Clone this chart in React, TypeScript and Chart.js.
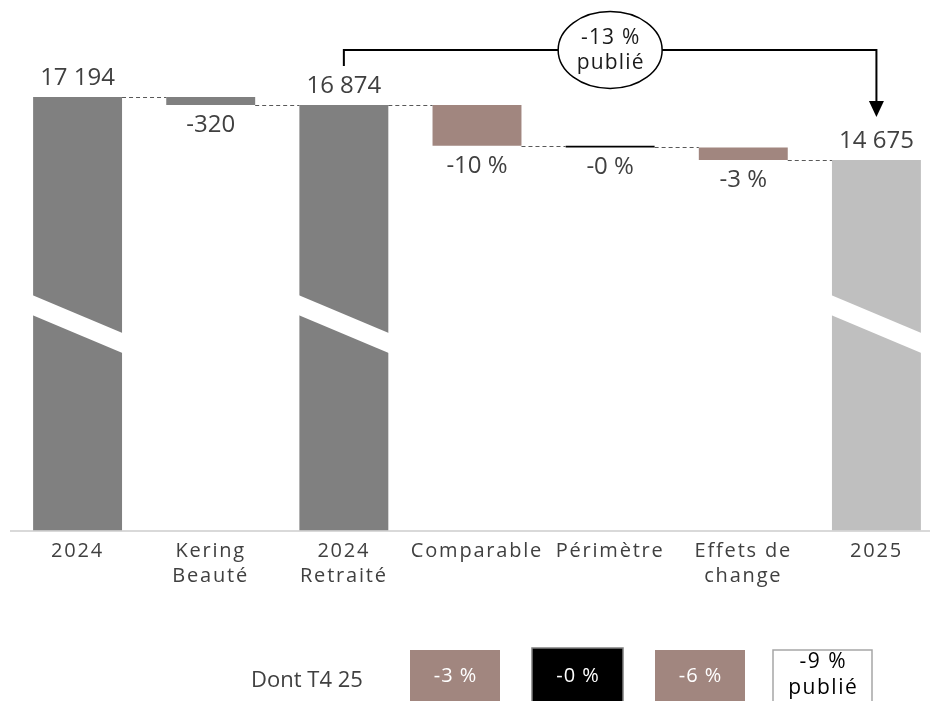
import React, { useEffect, useRef } from "react";
import { Chart, registerables } from "chart.js";

Chart.register(...registerables);

// ---------- data ----------
const categories: string[][] = [
  ["2024"],
  ["Kering", "Beauté"],
  ["2024", "Retraité"],
  ["Comparable"],
  ["Périmètre"],
  ["Effets de", "change"],
  ["2025"],
];
const kinds = ["total", "delta", "total", "delta", "delta", "delta", "total"];
const values = [17194, -320, 16874, -1630, -70, -499, 14675];
const valueLabels = ["17 194", "-320", "16 874", "-10 %", "-0 %", "-3 %", "14 675"];
const barColors = ["#808080", "#808080", "#808080", "#A1867F", "#000000", "#A1867F", "#BFBFBF"];
const bridgeLabel = ["-13 %", "publié"];
const q4Title = "Dont T4 25";
const q4Labels: string[][] = [["-3 %"], ["-0 %"], ["-6 %"], ["-9 %", "publié"]];
const q4Fills = ["#A1867F", "#000000", "#A1867F", "#FFFFFF"];
const q4TextColors = ["#FFFFFF", "#FFFFFF", "#FFFFFF", "#000000"];
const q4Borders = [null, "#7F7F7F", null, "#A6A6A6"];

// axis break: the hidden lower part of the scale
const AXIS_MIN = -140;
const AXIS_MAX = 20270;
const BREAK_VALUE = 9280;

const FONT = "'Open Sans', 'DejaVu Sans', sans-serif";
const TEXT = "#404040";

function buildFloating() {
  let running = 0;
  return values.map((v, i) => {
    if (kinds[i] === "total") {
      running = v;
      return [AXIS_MIN, v];
    }
    const start = running;
    running = running + v;
    return [start, running];
  });
}

const spacingPlugin = {
  id: "spacing",
  beforeDraw(chart: any) {
    (chart.ctx as any).letterSpacing = "1.8px";
  },
  beforeDatasetsDraw(chart: any) {
    (chart.ctx as any).letterSpacing = "0px";
  },
};

const decorPlugin = {
  id: "decor",
  afterDatasetsDraw(chart: any) {
    const ctx: CanvasRenderingContext2D = chart.ctx;
    const c2 = ctx as any;
    c2.letterSpacing = "0px";
    const meta = chart.getDatasetMeta(0);
    const y = chart.scales.y;
    const bars = meta.data as any[];
    const floating = buildFloating();
    ctx.save();

    // axis-break bands
    bars.forEach((b, i) => {
      if (kinds[i] !== "total") return;
      const w = b.width;
      const l = b.x - w / 2;
      const r = b.x + w / 2 + 1;
      const y0 = y.getPixelForValue(BREAK_VALUE);
      const drop = 0.43 * w;
      ctx.fillStyle = "#FFFFFF";
      ctx.beginPath();
      ctx.moveTo(l - 1, y0);
      ctx.lineTo(r, y0 + drop);
      ctx.lineTo(r, y0 + drop + 20);
      ctx.lineTo(l - 1, y0 + 20);
      ctx.closePath();
      ctx.fill();
    });

    // connectors
    ctx.strokeStyle = "#595959";
    ctx.lineWidth = 1;
    ctx.setLineDash([4, 3]);
    for (let i = 0; i < bars.length - 1; i++) {
      const level = floating[i][1];
      const py = Math.round(y.getPixelForValue(level)) + 0.5;
      const x1 = bars[i].x + bars[i].width / 2;
      const x2 = bars[i + 1].x - bars[i + 1].width / 2;
      ctx.beginPath();
      ctx.moveTo(x1, py);
      ctx.lineTo(x2, py);
      ctx.stroke();
    }
    ctx.setLineDash([]);

    // value labels
    ctx.fillStyle = TEXT;
    ctx.font = `24px ${FONT}`;
    ctx.textAlign = "center";
    ctx.textBaseline = "middle";
    bars.forEach((b, i) => {
      const top = Math.min(b.y, b.base);
      const bottom = Math.max(b.y, b.base);
      if (kinds[i] === "total") {
        ctx.fillText(valueLabels[i], b.x, top - 19);
      } else {
        ctx.fillText(valueLabels[i], b.x, bottom + 20);
      }
    });

    // bridge arrow 2024 Retraité -> 2025
    const from = bars[2];
    const to = bars[bars.length - 1];
    const lineY = chart.chartArea.top + 30;
    const startY = from.y - 39;
    const tipY = to.y - 43;
    ctx.strokeStyle = "#000000";
    ctx.lineWidth = 2;
    ctx.beginPath();
    ctx.moveTo(from.x, startY);
    ctx.lineTo(from.x, lineY);
    ctx.lineTo(to.x, lineY);
    ctx.lineTo(to.x, tipY - 15);
    ctx.stroke();
    ctx.fillStyle = "#000000";
    ctx.beginPath();
    ctx.moveTo(to.x - 7.5, tipY - 16);
    ctx.lineTo(to.x + 7.5, tipY - 16);
    ctx.lineTo(to.x, tipY);
    ctx.closePath();
    ctx.fill();

    const cx = (from.x + to.x) / 2;
    ctx.fillStyle = "#FFFFFF";
    ctx.lineWidth = 1.5;
    ctx.beginPath();
    ctx.ellipse(cx, lineY, 52, 38.5, 0, 0, Math.PI * 2);
    ctx.fill();
    ctx.stroke();
    ctx.fillStyle = "#1A1A1A";
    ctx.font = `21px ${FONT}`;
    c2.letterSpacing = "1.2px";
    ctx.fillText(bridgeLabel[0], cx + 0.6, lineY - 12);
    ctx.fillText(bridgeLabel[1], cx + 0.6, lineY + 13);
    c2.letterSpacing = "0px";

    // "Dont T4 25" row
    const rowTop = 650;
    ctx.fillStyle = TEXT;
    ctx.font = `22px ${FONT}`;
    ctx.fillText(q4Title, 307, 681);
    const centers = [455, 577.5, 700, 822.5];
    const widths = [90, 91, 90, 99];
    centers.forEach((c, i) => {
      const l = c - widths[i] / 2;
      const t = i === 1 ? rowTop - 2 : rowTop;
      ctx.fillStyle = q4Fills[i];
      ctx.fillRect(l, t, widths[i], 60);
      const bc = q4Borders[i];
      if (bc) {
        ctx.strokeStyle = bc;
        ctx.lineWidth = 1.5;
        ctx.strokeRect(l, t, widths[i], 60);
      }
      ctx.fillStyle = q4TextColors[i];
      const lines = q4Labels[i];
      if (lines.length === 1) {
        ctx.font = `20px ${FONT}`;
        c2.letterSpacing = "1px";
        ctx.fillText(lines[0], c + 0.5, 676);
      } else {
        ctx.font = `21px ${FONT}`;
        c2.letterSpacing = "1.5px";
        ctx.fillText(lines[0], c + 0.75, 662);
        ctx.fillText(lines[1], c + 0.75, 688);
      }
      c2.letterSpacing = "0px";
    });

    ctx.restore();
  },
};

export default function App() {
  const canvasRef = useRef<HTMLCanvasElement | null>(null);

  useEffect(() => {
    document.body.style.margin = "0";
    document.body.style.overflow = "hidden";
    const canvas = canvasRef.current;
    if (!canvas) return;
    const floating = buildFloating();
    const chart = new Chart(canvas, {
      type: "bar",
      data: {
        labels: categories as any,
        datasets: [
          {
            data: floating as any,
            backgroundColor: barColors,
            borderWidth: 0,
            barPercentage: 0.668,
            categoryPercentage: 1,
          },
        ],
      },
      options: {
        animation: false,
        responsive: true,
        maintainAspectRatio: false,
        layout: { padding: { left: 11, right: 2, top: 20, bottom: 0 } },
        plugins: {
          legend: { display: false },
          tooltip: { enabled: false },
        },
        scales: {
          x: {
            grid: { display: false, drawTicks: false },
            border: { display: true, color: "#D9D9D9", width: 2 },
            ticks: {
              color: TEXT,
              font: { family: FONT, size: 20, lineHeight: 1.215 },
              padding: 9,
              maxRotation: 0,
              autoSkip: false,
            },
            afterFit: (axis: any) => {
              axis.height = 170.5;
            },
          },
          y: {
            display: false,
            min: AXIS_MIN,
            max: AXIS_MAX,
          },
        },
      },
      plugins: [spacingPlugin, decorPlugin],
    });
    return () => chart.destroy();
  }, []);

  return (
    <div style={{ position: "relative", width: 945, height: 701 }}>
      <canvas ref={canvasRef} />
    </div>
  );
}
